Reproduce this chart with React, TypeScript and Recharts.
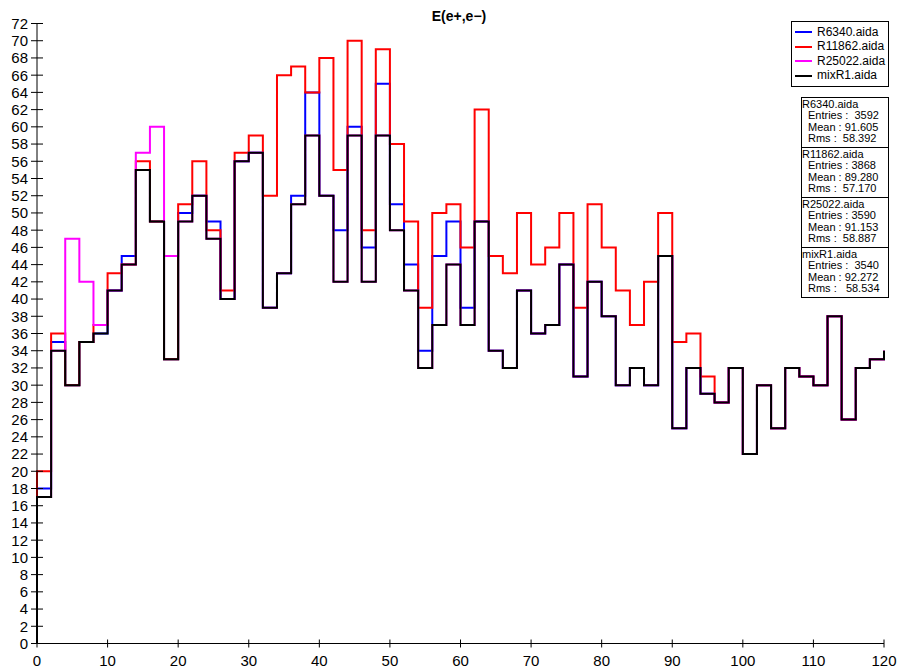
import React from 'react';
import { LineChart, Line, XAxis, YAxis } from 'recharts';

// lower edges of the 60 histogram bins (width 2)
const binEdges = [
  0, 2, 4, 6, 8, 10, 12, 14, 16, 18,
  20, 22, 24, 26, 28, 30, 32, 34, 36, 38,
  40, 42, 44, 46, 48, 50, 52, 54, 56, 58,
  60, 62, 64, 66, 68, 70, 72, 74, 76, 78,
  80, 82, 84, 86, 88, 90, 92, 94, 96, 98,
  100, 102, 104, 106, 108, 110, 112, 114, 116, 118,
];
const lastEdge = 120;

const R6340 = [
  18, 35, 30, 35, 36, 41, 45, 55, 49, 33,
  50, 52, 49, 40, 56, 57, 39, 43, 52, 64,
  52, 48, 60, 46, 65, 51, 44, 34, 45, 49,
  39, 49, 34, 32, 41, 36, 37, 44, 31, 42,
  38, 30, 32, 30, 45, 25, 32, 29, 28, 32,
  22, 30, 25, 32, 31, 30, 38, 26, 32, 33,
];
const R11862 = [
  20, 36, 30, 35, 37, 43, 44, 56, 49, 33,
  51, 56, 48, 41, 57, 59, 52, 66, 67, 64,
  68, 55, 70, 48, 69, 58, 49, 39, 50, 51,
  46, 62, 45, 43, 50, 44, 46, 50, 39, 51,
  46, 41, 37, 42, 50, 35, 36, 31, 28, 32,
  22, 30, 25, 32, 31, 30, 38, 26, 32, 33,
];
const R25022 = [
  17, 34, 47, 42, 37, 41, 44, 57, 60, 45,
  49, 52, 47, 40, 56, 57, 39, 43, 51, 59,
  52, 42, 59, 42, 59, 48, 41, 32, 37, 44,
  37, 49, 34, 32, 41, 36, 37, 44, 31, 42,
  38, 30, 32, 30, 45, 25, 32, 29, 28, 32,
  22, 30, 25, 32, 31, 30, 38, 26, 32, 33,
];
const mixR1 = [
  17, 34, 30, 35, 36, 41, 44, 55, 49, 33,
  49, 52, 47, 40, 56, 57, 39, 43, 51, 59,
  52, 42, 59, 42, 59, 48, 41, 32, 37, 44,
  37, 49, 34, 32, 41, 36, 37, 44, 31, 42,
  38, 30, 32, 30, 45, 25, 32, 29, 28, 32,
  22, 30, 25, 32, 31, 30, 38, 26, 32, 33,
];
const endValue = 34;

const xTicks = [0, 10, 20, 30, 40, 50, 60, 70, 80, 90, 100, 110, 120];
const yTicks = [
  0, 2, 4, 6, 8, 10, 12, 14, 16, 18, 20, 22, 24, 26, 28, 30, 32, 34, 36,
  38, 40, 42, 44, 46, 48, 50, 52, 54, 56, 58, 60, 62, 64, 66, 68, 70, 72,
];

const seriesNames = ['R6340.aida', 'R11862.aida', 'R25022.aida', 'mixR1.aida'];
const seriesKeys = ['a', 'b', 'c', 'd'];
const seriesColors = ['#0000ff', '#ff0000', '#ff00ff', '#000000'];
const statEntries = ['3592', '3868', '3590', '3540'];
const statMeans = ['91.605', '89.280', '91.153', '92.272'];
const statRms = ['58.392', '57.170', '58.887', '58.534'];
const entriesGap = ['  ', ' ', ' ', '  '];
const rmsGap = ['  ', '  ', '  ', '   '];

const title = 'E(e+,e\u2212)';
const FONT = "'Liberation Sans', Arial, Helvetica, sans-serif";

const data: any[] = [{ x: 0, a: 0, b: 0, c: 0, d: 0 }];
binEdges.forEach((e, i) => {
  data.push({ x: e, a: R6340[i], b: R11862[i], c: R25022[i], d: mixR1[i] });
});
data.push({ x: lastEdge, a: endValue, b: endValue, c: endValue, d: endValue });

const YTick = (props: any) => {
  const { x, y, payload } = props;
  return (
    <g>
      <line x1={x - 6} x2={x + 6} y1={y} y2={y} stroke="#000" strokeWidth={1} />
      <text x={x - 9} y={y} dy="0.36em" textAnchor="end" fontSize={15} fontFamily={FONT} fill="#000">
        {payload.value}
      </text>
    </g>
  );
};

const XTick = (props: any) => {
  const { x, y, payload } = props;
  return (
    <g>
      <line x1={x} x2={x} y1={y - 4} y2={y + 4} stroke="#000" strokeWidth={1} />
      <text x={x} y={y + 22} textAnchor="middle" fontSize={15} fontFamily={FONT} fill="#000">
        {payload.value}
      </text>
    </g>
  );
};

export default function App() {
  return (
    <div style={{ position: 'absolute', left: 0, top: 0, width: 898, height: 668, background: '#fff', fontFamily: FONT }}>
      <LineChart
        width={898}
        height={668}
        data={data}
        margin={{ top: 23.5, right: 14, left: 0, bottom: 0 }}
      >
        <XAxis
          dataKey="x"
          type="number"
          domain={[0, 120]}
          ticks={xTicks}
          height={24.5}
          tickSize={0}
          tickMargin={0}
          tickLine={false}
          tick={<XTick />}
          axisLine={{ stroke: '#000', strokeWidth: 1 }}
          allowDuplicatedCategory={true}
          interval={0}
        />
        <YAxis
          type="number"
          domain={[0, 72]}
          ticks={yTicks}
          width={37}
          tickSize={0}
          tickMargin={0}
          tickLine={false}
          tick={<YTick />}
          axisLine={{ stroke: '#000', strokeWidth: 1 }}
          interval={0}
        />
        {seriesKeys.map((k, i) => (
          <Line
            key={k}
            dataKey={k}
            type="stepAfter"
            stroke={seriesColors[i]}
            strokeWidth={2}
            dot={false}
            activeDot={false}
            isAnimationActive={false}
          />
        ))}
      </LineChart>
      <div style={{ position: 'absolute', left: 359, width: 200, top: 8, textAlign: 'center', fontWeight: 'bold', fontSize: 14, lineHeight: '17px' }}>
        {title}
      </div>
      <div style={{ position: 'absolute', left: 791, top: 21, width: 98, height: 66, border: '1px solid #000', background: '#fff', boxSizing: 'border-box' }}>
        {seriesNames.map((n, i) => (
          <div key={n} style={{ position: 'absolute', left: 3, top: 3 + i * 14.5, height: 14, display: 'flex', alignItems: 'center', fontSize: 12, lineHeight: '13px' }}>
            <div style={{ width: 17, height: 2, background: seriesColors[i], marginRight: 5 }} />
            <span>{n}</span>
          </div>
        ))}
      </div>
      <div style={{ position: 'absolute', left: 801, top: 96.5, width: 88, boxSizing: 'border-box', background: '#fff' }}>
        {seriesNames.map((n, i) => (
          <div
            key={n}
            style={{
              border: '1px solid #000',
              borderTop: i === 0 ? '1px solid #000' : 'none',
              height: i === 0 ? 51 : 50,
              boxSizing: 'border-box',
              fontSize: 11,
              lineHeight: '11.5px',
              whiteSpace: 'pre',
              paddingTop: 1,
            }}
          >
            <div style={{ height: 11.5 }}>{n}</div>
            <div style={{ height: 11.5, paddingLeft: 6 }}>{'Entries :' + entriesGap[i] + statEntries[i]}</div>
            <div style={{ height: 11.5, paddingLeft: 6 }}>{'Mean : ' + statMeans[i]}</div>
            <div style={{ height: 11.5, paddingLeft: 6 }}>{'Rms :' + rmsGap[i] + statRms[i]}</div>
          </div>
        ))}
      </div>
    </div>
  );
}
